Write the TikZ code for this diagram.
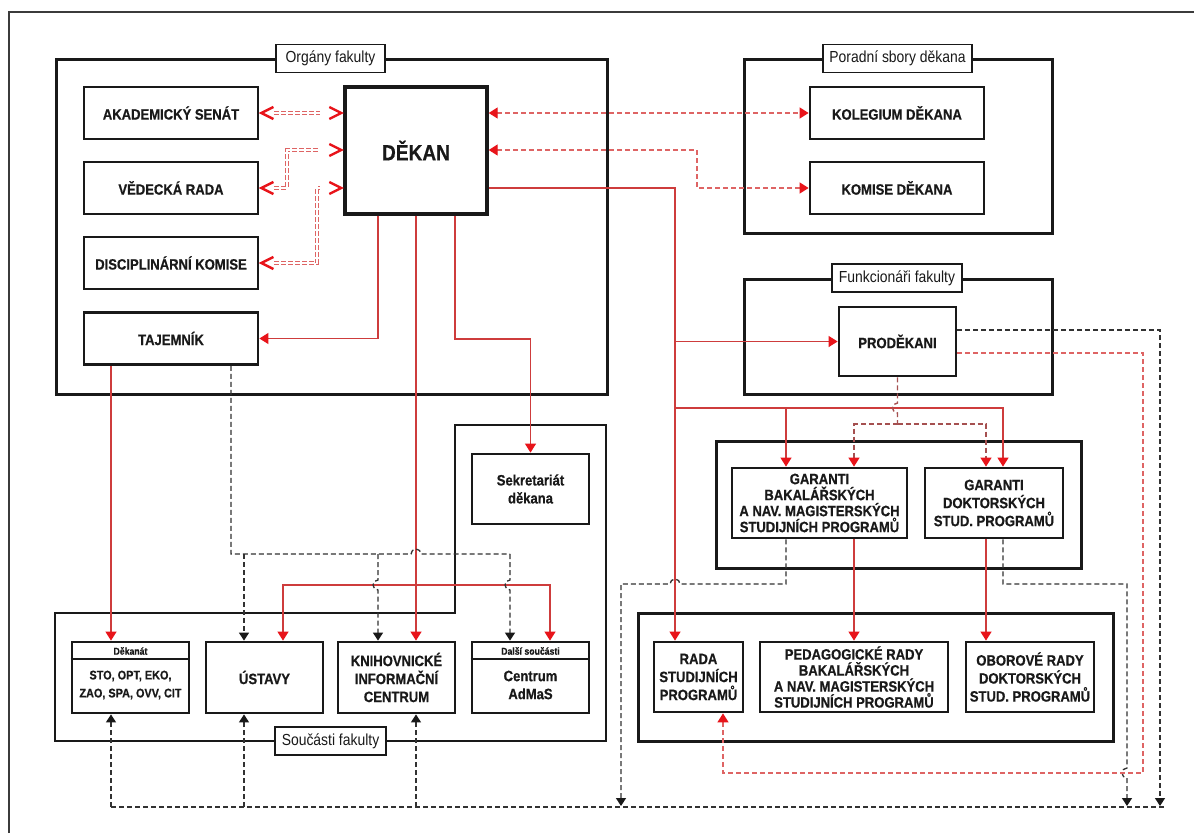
\documentclass[tikz,border=0pt]{standalone}
\usepackage{fontspec}
\setmainfont{Liberation Sans}[FakeStretch=0.87, BoldFeatures={FakeBold=0.6}]
\usetikzlibrary{arrows.meta}
\definecolor{lred}{RGB}{206,60,60}
\definecolor{tred}{RGB}{232,20,26}
\definecolor{dred}{RGB}{222,100,100}
\definecolor{mred}{RGB}{165,80,80}
\definecolor{dgray}{RGB}{50,50,50}
\definecolor{ink}{RGB}{25,25,25}
\newcommand\mychevR[1]{\draw[chev, shift={(#1)}] (-14,-6) -- (-2,0) -- (-14,6);}
\newcommand\mychevL[1]{\draw[chev, shift={(#1)}] (14,-6) -- (2,0) -- (14,6);}
\begin{document}
\begin{tikzpicture}[x=1pt,y=-1pt,
  box/.style={draw=ink, line width=2.8pt, fill=white, align=center, inner sep=1pt,
     font=\bfseries\fontsize{15}{18}\selectfont, text=ink},
  frame/.style={draw=ink, line width=2.5pt},
  lab/.style={draw=ink, line width=1.8pt, fill=white, minimum height=28pt, inner xsep=3pt,
     font=\fontsize{16}{18}\selectfont, text=ink},
  rl/.style={draw=lred, line width=1.2pt},
  ra/.style={rl, -{Triangle[length=9pt,width=11pt,color=tred]}},
  rdash/.style={draw=dred, line width=1.4pt, dash pattern=on 5pt off 3pt},
  rda/.style={rdash, -{Triangle[length=9pt,width=11pt,color=tred]}},
  rdaa/.style={rdash, {Triangle[length=9pt,width=11pt,color=tred]}-{Triangle[length=9pt,width=11pt,color=tred]}},
  mda/.style={draw=mred, line width=1.4pt, dash pattern=on 5pt off 3pt, -{Triangle[length=9pt,width=11pt,color=tred]}},
  kdash/.style={draw=dgray, line width=1.3pt, dash pattern=on 5pt off 3pt},
  kda/.style={kdash, -{Triangle[length=8pt,width=10pt,color=ink]}},
  dbl/.style={draw=dred, line width=1pt, double=white, double distance=2pt, dash pattern=on 5pt off 2pt},
  chev/.style={draw=tred, line width=2.4pt, line join=miter},
]
\fill[white] (0,0) rectangle (1194,833);
\useasboundingbox (0,0) rectangle (1194,833);
\draw[ink!85, line width=2pt] (9,833) -- (9,12) -- (1194,12);

% frames
\node[frame, minimum width=551pt, minimum height=335pt, anchor=north west] (forg) at (55,58) {};
\node[frame, minimum width=308pt, minimum height=174pt, anchor=north west] (fpor) at (743,58) {};
\node[frame, minimum width=308pt, minimum height=115pt, anchor=north west] (ffun) at (743,278) {};
\node[frame, minimum width=365pt, minimum height=127pt, anchor=north west] (fgar) at (715,440) {};
\node[frame, minimum width=475pt, minimum height=128pt, anchor=north west] (frad) at (637,612) {};
\draw[frame] (55,613) -- (455,613) -- (455,425) -- (606,425) -- (606,741) -- (55,741) -- cycle;

% labels
\node[lab, minimum width=109pt] (lorg) at (330.5,58.5) {Orgány fakulty};
\node[lab, minimum width=149pt] (lpor) at (897.5,58.5) {Poradní sbory děkana};
\node[lab, minimum width=130pt] (lfun) at (897,278) {Funkcionáři fakulty};
\node[lab, minimum width=111pt] (lsou) at (330.5,741) {Součásti fakulty};

% boxes
\node[box, minimum width=174pt, minimum height=52pt] (as) at (171,113) {AKADEMICKÝ SENÁT};
\node[box, minimum width=174pt, minimum height=52pt] (vr) at (171,188) {VĚDECKÁ RADA};
\node[box, minimum width=174pt, minimum height=52pt] (dk) at (171,263) {DISCIPLINÁRNÍ KOMISE};
\node[box, minimum width=174pt, minimum height=52pt] (taj) at (171,338.5) {TAJEMNÍK};
\node[box, line width=3.4pt, minimum width=142pt, minimum height=127pt,
      font=\bfseries\fontsize{22}{24}\selectfont] (dekan) at (416,150.5) {DĚKAN};
\node[box, minimum width=174pt, minimum height=52pt] (kol) at (897,113) {KOLEGIUM DĚKANA};
\node[box, minimum width=174pt, minimum height=52pt] (kom) at (897,188) {KOMISE DĚKANA};
\node[box, minimum width=117pt, minimum height=69pt] (prod) at (897.5,341.5) {PRODĚKANI};
\node[box, minimum width=175pt, minimum height=70pt, font=\bfseries\fontsize{15}{16}\selectfont]
   (gbak) at (819.5,503) {GARANTI\\BAKALÁŘSKÝCH\\A NAV. MAGISTERSKÝCH\\STUDIJNÍCH PROGRAMŮ};
\node[box, minimum width=138pt, minimum height=70pt] (gdok) at (994,503) {GARANTI\\DOKTORSKÝCH\\STUD. PROGRAMŮ};
\node[box, minimum width=89pt, minimum height=70pt] (rada) at (698.5,677) {RADA\\STUDIJNÍCH\\PROGRAMŮ};
\node[box, minimum width=188pt, minimum height=70pt, font=\bfseries\fontsize{15}{16}\selectfont]
   (ped) at (854,677) {PEDAGOGICKÉ RADY\\BAKALÁŘSKÝCH\\A NAV. MAGISTERSKÝCH\\STUDIJNÍCH PROGRAMŮ};
\node[box, minimum width=128pt, minimum height=70pt] (obo) at (1030,677) {OBOROVÉ RADY\\DOKTORSKÝCH\\STUD. PROGRAMŮ};
\node[box, minimum width=117pt, minimum height=70pt] (sekr) at (530.5,489) {Sekretariát\\děkana};
\node[box, minimum width=117pt, minimum height=71pt] (dekanat) at (130.5,677.5) {};
\draw[ink, line width=2pt] (dekanat.west |- 0,659) -- (dekanat.east |- 0,659);
\node[font=\bfseries\fontsize{10}{11}\selectfont, text=ink, inner sep=0pt] (dekhdr) at (130.5,651) {Děkanát};
\node[font=\bfseries\fontsize{12.5}{18}\selectfont, text=ink, align=center, inner sep=0pt] (dektxt) at (130.5,685) {STO, OPT, EKO,\\ZAO, SPA, OVV, CIT};
\node[box, minimum width=117pt, minimum height=71pt] (ustavy) at (264.5,677.5) {ÚSTAVY};
\node[box, minimum width=117pt, minimum height=71pt] (knih) at (396.5,677.5) {KNIHOVNICKÉ\\INFORMAČNÍ\\CENTRUM};
\node[box, minimum width=117pt, minimum height=71pt] (dalsi) at (530.5,677.5) {};
\draw[ink, line width=2pt] (dalsi.west |- 0,659) -- (dalsi.east |- 0,659);
\node[font=\bfseries\fontsize{10}{11}\selectfont, text=ink, inner sep=0pt] (dalhdr) at (530.5,651) {Další součásti};
\node[font=\bfseries\fontsize{15}{18}\selectfont, text=ink, align=center, inner sep=0pt] (daltxt) at (530.5,685) {Centrum\\AdMaS};

% double dashed links in Orgány fakulty
\coordinate (v1) at (287,150);
\coordinate (v2) at (317,188);
\draw[dbl, shorten <=15pt, shorten >=23pt] (as.east) -- (dekan.west |- as.east);
\mychevL{as.east}
\mychevR{dekan.west |- as.east}
\draw[dbl, shorten <=15pt, shorten >=23pt] (vr.east) -| (v1) -- (dekan.west |- v1);
\mychevL{vr.east}
\mychevR{dekan.west |- v1}
\draw[dbl, shorten <=15pt, shorten >=23pt] (dk.east) -| (v2) -- (dekan.west |- v2);
\mychevL{dk.east}
\mychevR{dekan.west |- v2}

% dekan to advisory boards
\coordinate (v3) at (697,150);
\draw[rdaa] (dekan.east |- kol.west) -- (kol.west);
\draw[rdaa] (dekan.east |- v3) -- (v3) |- (kom.west);

% dekan red solid lines
\draw[ra] (dekan.south -| 378,0) |- (taj.east);
\draw[ra] (dekan.south) -- (knih.north -| dekan.south);
\coordinate (j1) at (416,585);
\draw[ra] (j1) -| (ustavy.north -| 283,0);
\draw[ra] (j1) -| (dalsi.north -| 550,0);
\draw[ra] (dekan.south -| 455,0) |- (530.5,339) -- (sekr.north);
\draw[ra] (dekan.east |- 0,188) -| (rada.north -| 675,0);
\draw[ra] (prod.west -| 675,0) -- (prod.west);
\coordinate (j2) at (675,408);
\coordinate (j3) at (786,408);
\draw[ra] (j2) -| (gdok.north -| 1003,0);
\draw[ra] (j3) -- (gbak.north -| j3);

% prodekani to garanti
\coordinate (j4) at (897.5,424);
\draw[draw=mred, line width=1.4pt, dash pattern=on 5pt off 3pt] (prod.south) -- (897.5,403) arc[start angle=90,end angle=270,radius=5pt] -- (j4);
\draw[mda] (j4) -| (gbak.north -| 854,0);
\draw[mda] (j4) -| (gdok.north -| 986,0);

% garanti to rady
\draw[ra] (gbak.south -| 854,0) -- (ped.north -| 854,0);
\draw[ra] (gdok.south -| 986,0) -- (obo.north -| 986,0);

% black dashed to bus
\coordinate (b1) at (111,807);
\coordinate (b2) at (1164,807);
\draw[kda] (gbak.south -| 786,0) -- (786,584) -- (680,584) arc[start angle=0,end angle=180,radius=5pt] -- (621,584) -- (621,806);
\draw[kda] (gdok.south -| 1003,0) -- (1003,584) -- (1127,584) -- (1127,768) arc[start angle=90,end angle=270,radius=5pt] -- (1127,806);
\draw[kda] (prod.east |- 0,330) -- (1160,330) -- (1160,806);
\draw[rda] (prod.east |- 0,353) -- (1143,353) -- (1143,773) -- (723,773) -- (rada.south -| 723,0);
\draw[kdash] (b1) -- (b2);
\draw[kda] (b1) -- (dekanat.south -| b1);
\draw[kda] (244,807) -- (ustavy.south -| 244,0);
\draw[kda] (416,807) -- (knih.south -| 416,0);

% tajemnik
\draw[ra] (taj.south -| 111,0) -- (dekanat.north -| 111,0);
\draw[kdash] (taj.south -| 231,0) -- (231,554) -- (411,554) arc[start angle=180,end angle=0,radius=5pt] -- (510,554);
\draw[kda] (244,554) -- (ustavy.north -| 244,0);
\draw[kda] (378,554) -- (378,580) arc[start angle=90,end angle=270,radius=5pt] -- (knih.north -| 378,0);
\draw[kda] (510,554) -- (510,580) arc[start angle=90,end angle=270,radius=5pt] -- (dalsi.north -| 510,0);
\end{tikzpicture}
\end{document}
